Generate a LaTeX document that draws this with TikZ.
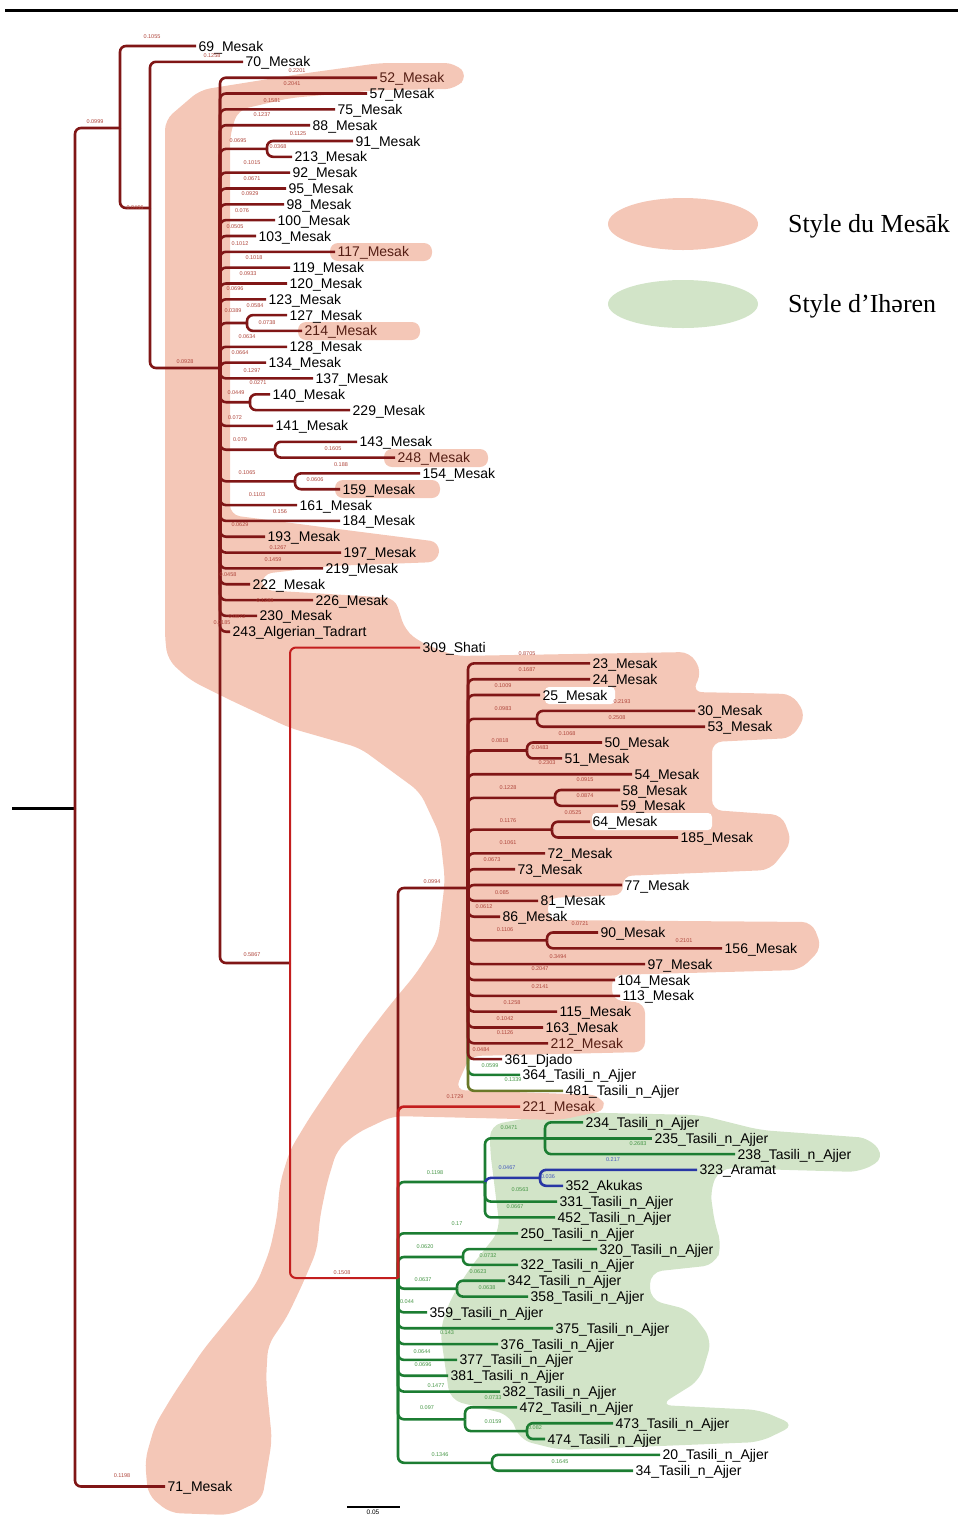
\documentclass[tikz,border=0pt]{standalone}
\usepackage{fontspec}
\setmainfont{Liberation Sans}
\newfontfamily\legfont{Liberation Serif}
\definecolor{brd}{RGB}{128,22,22}
\definecolor{brr}{RGB}{195,30,30}
\definecolor{brg}{RGB}{28,125,50}
\definecolor{brb}{RGB}{40,55,165}
\definecolor{bro}{RGB}{105,120,40}
\definecolor{salm}{RGB}{244,199,183}
\definecolor{lgrn}{RGB}{210,228,200}
\definecolor{blr}{RGB}{175,70,60}
\definecolor{blg}{RGB}{70,150,70}
\definecolor{blb}{RGB}{70,90,190}
\definecolor{labbr}{RGB}{85,30,20}
\tikzset{
  br/.style={line width=2.6pt, rounded corners=6pt},
  leaf/.style={anchor=west, inner sep=2.5pt, text height=10pt, text depth=0pt, font=\fontsize{14}{14}\selectfont},
  bl/.style={font=\fontsize{5.5}{6}\selectfont, inner sep=0pt, text=blr},
  legtxt/.style={anchor=west, inner sep=0pt, font=\legfont\fontsize{26}{26}\selectfont},
}
\newcommand\leafE[7][]{\node[leaf,#1] (#2) at (#4,#5) {#6}; \draw[br,#7] (#3) |- (#2.west);}
\newcommand\innerE[3]{\draw[br,#1] (#2) |- (#3);}
\begin{document}
\begin{tikzpicture}[x=1pt,y=-1pt]
\useasboundingbox (0,0) rectangle (958,1519);
% ---------- background blobs ----------
\fill[lgrn, rounded corners=12pt] (490,1125) -- (560,1112) -- (700,1115) -- (760,1130) -- (870,1138) -- (885,1158) -- (860,1172) -- (720,1168) -- (710,1190) -- (715,1225) -- (722,1245) -- (715,1265) -- (650,1272) -- (650,1300) -- (690,1310) -- (712,1340) -- (700,1380) -- (660,1405) -- (760,1410) -- (795,1425) -- (760,1442) -- (560,1450) -- (520,1440) -- (510,1415) -- (450,1400) -- (440,1330) -- (450,1300) -- (470,1268) -- (500,1230) -- (495,1190) -- (490,1150) -- cycle;
\fill[salm, rounded corners=10pt] (165,640) -- (165,120) -- (200,90) -- (300,74) -- (380,63) -- (455,63) -- (468,76) -- (455,89) -- (380,90) -- (290,98) -- (238,110) -- (230,135) -- (230,515) -- (330,528) -- (440,542) -- (438,562) -- (330,566) -- (262,574) -- (262,590) -- (395,598) -- (405,630) -- (420,642) -- (455,656) -- (690,652) -- (702,672) -- (692,692) -- (792,694) -- (806,715) -- (792,738) -- (712,742) -- (712,810) -- (782,815) -- (792,842) -- (770,870) -- (622,876) -- (624,895) -- (548,898) -- (548,920) -- (812,922) -- (822,948) -- (800,970) -- (612,975) -- (612,1000) -- (645,1003) -- (645,1052) -- (470,1056) -- (455,1090) -- (600,1095) -- (607,1110) -- (560,1120) -- (393,1116) -- (357,1133) -- (337,1150) -- (327,1183) -- (320,1217) -- (317,1250) -- (303,1283) -- (287,1317) -- (268,1345) -- (266,1380) -- (272,1440) -- (262,1500) -- (230,1515) -- (170,1513) -- (148,1495) -- (145,1460) -- (155,1425) -- (173,1395) -- (203,1350) -- (230,1317) -- (257,1283) -- (270,1250) -- (277,1217) -- (280,1183) -- (290,1150) -- (310,1117) -- (337,1077) -- (363,1040) -- (390,1005) -- (415,975) -- (438,940) -- (445,880) -- (440,835) -- (420,792) -- (360,748) -- (290,728) -- (230,700) -- (190,680) -- (168,660) -- cycle;
\fill[salm, rounded corners=8pt] (330,243) rectangle (432,261);
\fill[salm, rounded corners=8pt] (298,322) rectangle (420,340);
\fill[salm, rounded corners=8pt] (384,449) rectangle (488,467);
\fill[salm, rounded corners=8pt] (335,480) rectangle (440,498);
\fill[white, rounded corners=4pt] (545,687) rectangle (615,704);
\fill[white, rounded corners=4pt] (592,813) rectangle (712,830);
% ---------- legend ----------
\fill[salm] (683,224) ellipse [x radius=75pt, y radius=26pt];
\fill[lgrn] (683,304) ellipse [x radius=75pt, y radius=24pt];
\node[legtxt] (lg1) at (788,226) {Style du Mesāk};
\node[legtxt] (lg2) at (788,306) {Style d’Ihəren};
% ---------- frame line and scale ----------
\coordinate (tl1) at (5,10); \coordinate (tl2) at (958,10);
\draw[line width=3pt] (tl1) -- (tl2);
\coordinate (sb1) at (347,1507); \coordinate (sb2) at (400,1507);
\draw[line width=2pt] (sb1) -- (sb2);
\node[anchor=north, inner sep=0pt, font=\fontsize{6.5}{7}\selectfont] (sbl) at (373,1510) {0.05};
% ---------- internal nodes ----------
\coordinate (root0) at (12,808);
\coordinate (R) at (75,808);
\coordinate (A) at (120,128);
\coordinate (B) at (150,208);
\coordinate (C) at (220,368);
\coordinate (D) at (290,963);
\coordinate (E) at (398,1278);
\coordinate (F) at (468,888);
\coordinate (c1) at (267,148.9);
\coordinate (c2) at (247,323.0);
\coordinate (c3) at (250,402.2);
\coordinate (c4) at (275,449.7);
\coordinate (c5) at (295,481.3);
\coordinate (S1) at (537,718.8);
\coordinate (S2) at (527,750.5);
\coordinate (S3) at (555,797.9);
\coordinate (S4) at (552,829.6);
\coordinate (S5) at (547,940.4);
\coordinate (G) at (485,1182);
\coordinate (H) at (545,1138.3);
\coordinate (I) at (540,1177.9);
\coordinate (J) at (463,1257.0);
\coordinate (K) at (457,1288.7);
\coordinate (L) at (465,1419.3);
\coordinate (M) at (527,1431.1);
\coordinate (N) at (492,1462.8);
% ---------- root ----------
\draw[line width=3pt] (root0) -- (R);
\innerE{brd}{R}{A}
\leafE{n71}{R}{165}{1486.5}{71\_Mesak}{brd}
\leafE{n69}{A}{196}{46.0}{69\_Mesak}{brd}
\innerE{brd}{A}{B}
\leafE{n70}{B}{243}{61.8}{70\_Mesak}{brd}
\innerE{brd}{B}{C}
% ---------- C clade ----------
\leafE[text=labbr]{n52}{C}{377}{77.7}{52\_Mesak}{brd}
\leafE{n57}{C}{367}{93.5}{57\_Mesak}{brd}
\leafE{n75}{C}{335}{109.3}{75\_Mesak}{brd}
\leafE{n88}{C}{310}{125.2}{88\_Mesak}{brd}
\innerE{brd}{C}{c1}
\leafE{n91}{c1}{353}{141.0}{91\_Mesak}{brd}
\leafE{n213}{c1}{292}{156.8}{213\_Mesak}{brd}
\leafE{n92}{C}{290}{172.6}{92\_Mesak}{brd}
\leafE{n95}{C}{286}{188.5}{95\_Mesak}{brd}
\leafE{n98}{C}{284}{204.3}{98\_Mesak}{brd}
\leafE{n100}{C}{275}{220.1}{100\_Mesak}{brd}
\leafE{n103}{C}{256}{236.0}{103\_Mesak}{brd}
\leafE[text=labbr]{n117}{C}{335}{251.8}{117\_Mesak}{brd}
\leafE{n119}{C}{290}{267.6}{119\_Mesak}{brd}
\leafE{n120}{C}{287}{283.5}{120\_Mesak}{brd}
\leafE{n123}{C}{266}{299.3}{123\_Mesak}{brd}
\innerE{brd}{C}{c2}
\leafE{n127}{c2}{287}{315.1}{127\_Mesak}{brd}
\leafE[text=labbr]{n214}{c2}{302}{330.9}{214\_Mesak}{brd}
\leafE{n128}{C}{287}{346.8}{128\_Mesak}{brd}
\leafE{n134}{C}{266}{362.6}{134\_Mesak}{brd}
\leafE{n137}{C}{313}{378.4}{137\_Mesak}{brd}
\innerE{brd}{C}{c3}
\leafE{n140}{c3}{270}{394.3}{140\_Mesak}{brd}
\leafE{n229}{c3}{350}{410.1}{229\_Mesak}{brd}
\leafE{n141}{C}{273}{425.9}{141\_Mesak}{brd}
\innerE{brd}{C}{c4}
\leafE{n143}{c4}{357}{441.8}{143\_Mesak}{brd}
\leafE[text=labbr]{n248}{c4}{395}{457.6}{248\_Mesak}{brd}
\innerE{brd}{C}{c5}
\leafE{n154}{c5}{420}{473.4}{154\_Mesak}{brd}
\leafE{n159}{c5}{340}{489.2}{159\_Mesak}{brd}
\leafE{n161}{C}{297}{505.1}{161\_Mesak}{brd}
\leafE{n184}{C}{340}{520.9}{184\_Mesak}{brd}
\leafE{n193}{C}{265}{536.7}{193\_Mesak}{brd}
\leafE{n197}{C}{341}{552.6}{197\_Mesak}{brd}
\leafE{n219}{C}{323}{568.4}{219\_Mesak}{brd}
\leafE{n222}{C}{250}{584.2}{222\_Mesak}{brd}
\leafE{n226}{C}{313}{600.1}{226\_Mesak}{brd}
\leafE{n230}{C}{257}{615.9}{230\_Mesak}{brd}
\leafE{n243}{C}{230}{631.7}{243\_Algerian\_Tadrart}{brd}
\innerE{brd}{C}{D}
% ---------- E clade: green first ----------
\innerE{brg}{E}{G}
\leafE{n250}{E}{518}{1233.3}{250\_Tasili\_n\_Ajjer}{brg}
\innerE{brg}{E}{J}
\innerE{brg}{E}{K}
\leafE{n359}{E}{427}{1312.4}{359\_Tasili\_n\_Ajjer}{brg}
\leafE{n375}{E}{553}{1328.2}{375\_Tasili\_n\_Ajjer}{brg}
\leafE{n376}{E}{498}{1344.1}{376\_Tasili\_n\_Ajjer}{brg}
\leafE{n377}{E}{457}{1359.9}{377\_Tasili\_n\_Ajjer}{brg}
\leafE{n381}{E}{448}{1375.7}{381\_Tasili\_n\_Ajjer}{brg}
\leafE{n382}{E}{500}{1391.6}{382\_Tasili\_n\_Ajjer}{brg}
\innerE{brg}{E}{L}
\innerE{brg}{E}{N}
\innerE{brg}{G}{H}
\leafE{n234}{H}{583}{1122.4}{234\_Tasili\_n\_Ajjer}{brg}
\node[leaf] (n235) at (652,1138.3) {235\_Tasili\_n\_Ajjer};
\draw[br,brg] (H) -- (n235.west);
\leafE{n238}{H}{735}{1154.1}{238\_Tasili\_n\_Ajjer}{brg}
\innerE{brb}{G}{I}
\leafE{n323}{I}{697}{1169.9}{323\_Aramat}{brb}
\leafE{n352}{I}{563}{1185.8}{352\_Akukas}{brb}
\leafE{n331}{G}{557}{1201.6}{331\_Tasili\_n\_Ajjer}{brg}
\leafE{n452}{G}{555}{1217.4}{452\_Tasili\_n\_Ajjer}{brg}
\leafE{n320}{J}{597}{1249.1}{320\_Tasili\_n\_Ajjer}{brg}
\leafE{n322}{J}{518}{1264.9}{322\_Tasili\_n\_Ajjer}{brg}
\leafE{n342}{K}{505}{1280.7}{342\_Tasili\_n\_Ajjer}{brg}
\leafE{n358}{K}{528}{1296.6}{358\_Tasili\_n\_Ajjer}{brg}
\leafE{n472}{L}{517}{1407.4}{472\_Tasili\_n\_Ajjer}{brg}
\innerE{brg}{L}{M}
\leafE{n473}{M}{613}{1423.2}{473\_Tasili\_n\_Ajjer}{brg}
\leafE{n474}{M}{545}{1439.0}{474\_Tasili\_n\_Ajjer}{brg}
\leafE{n20}{N}{660}{1454.9}{20\_Tasili\_n\_Ajjer}{brg}
\leafE{n34}{N}{633}{1470.7}{34\_Tasili\_n\_Ajjer}{brg}
% ---------- E clade: red ----------
\innerE{brd}{E}{F}
\leafE[text=labbr]{n221}{E}{520}{1106.6}{221\_Mesak}{brr}
\leafE{n309}{D}{420}{647.5}{309\_Shati}{brr,line width=2pt}
\innerE{brr,line width=2pt}{D}{E}
% ---------- F clade ----------
\leafE{n364}{F}{520}{1074.9}{364\_Tasili\_n\_Ajjer}{brg}
\leafE{n481}{F}{563}{1090.8}{481\_Tasili\_n\_Ajjer}{bro}
\leafE{n23}{F}{590}{663.4}{23\_Mesak}{brd}
\leafE{n24}{F}{590}{679.2}{24\_Mesak}{brd}
\leafE{n25}{F}{540}{695.0}{25\_Mesak}{brd}
\innerE{brd}{F}{S1}
\leafE{n30}{S1}{695}{710.9}{30\_Mesak}{brd}
\leafE{n53}{S1}{705}{726.7}{53\_Mesak}{brd}
\innerE{brd}{F}{S2}
\leafE{n50}{S2}{602}{742.5}{50\_Mesak}{brd}
\leafE{n51}{S2}{562}{758.4}{51\_Mesak}{brd}
\leafE{n54}{F}{632}{774.2}{54\_Mesak}{brd}
\innerE{brd}{F}{S3}
\leafE{n58}{S3}{620}{790.0}{58\_Mesak}{brd}
\leafE{n59}{S3}{618}{805.8}{59\_Mesak}{brd}
\innerE{brd}{F}{S4}
\leafE{n64}{S4}{590}{821.7}{64\_Mesak}{brd}
\leafE{n185}{S4}{678}{837.5}{185\_Mesak}{brd}
\leafE{n72}{F}{545}{853.3}{72\_Mesak}{brd}
\leafE{n73}{F}{515}{869.2}{73\_Mesak}{brd}
\leafE{n77}{F}{622}{885.0}{77\_Mesak}{brd}
\leafE{n81}{F}{538}{900.8}{81\_Mesak}{brd}
\leafE{n86}{F}{500}{916.7}{86\_Mesak}{brd}
\innerE{brd}{F}{S5}
\leafE{n90}{S5}{598}{932.5}{90\_Mesak}{brd}
\leafE{n156}{S5}{722}{948.3}{156\_Mesak}{brd}
\leafE{n97}{F}{645}{964.1}{97\_Mesak}{brd}
\leafE{n104}{F}{615}{980.0}{104\_Mesak}{brd}
\leafE{n113}{F}{620}{995.8}{113\_Mesak}{brd}
\leafE{n115}{F}{557}{1011.6}{115\_Mesak}{brd}
\leafE{n163}{F}{543}{1027.5}{163\_Mesak}{brd}
\leafE[text=labbr]{n212}{F}{548}{1043.3}{212\_Mesak}{brd}
\leafE{n361}{F}{502}{1059.1}{361\_Djado}{brd}
% ---------- branch lengths ----------
\foreach \x/\y/\t [count=\i] in {152/37/0.1055, 212/56/0.1258, 95/122/0.0999, 135/208/0.0466, 185/362/0.0928, 297/71/0.2201, 292/84/0.2041, 272/101/0.1581, 262/115/0.1237, 298/134/0.1125, 238/141/0.0695, 278/147/0.0368, 252/163/0.1015, 252/179/0.0671, 250/194/0.0929, 242/211/0.076, 235/227/0.0505, 240/244/0.1012, 254/258/0.1018, 248/274/0.0933, 235/289/0.0696, 255/306/0.0584, 233/311/0.0389, 267/323/0.0738, 247/337/0.0634, 240/353/0.0664, 252/371/0.1297, 258/383/0.0271, 236/393/0.0449, 235/418/0.072, 240/440/0.079, 333/449/0.1605, 341/465/0.188, 247/473/0.1065, 315/480/0.0606, 257/495/0.1103, 280/512/0.156, 240/525/0.0629, 278/548/0.1267, 273/560/0.1459, 228/575/0.0458, 265/601/0.1288, 237/617/0.0872, 222/623/0.0185, 252/955/0.5867, 432/882/0.0994, 342/1273/0.1508, 455/1097/0.1729, 527/654/0.8705, 527/670/0.1687, 503/686/0.1009, 622/702/0.2193, 503/709/0.0983, 617/718/0.2508, 567/734/0.1068, 500/741/0.0818, 540/748/0.0483, 547/763/0.2303, 585/780/0.0915, 508/788/0.1228, 585/796/0.0874, 573/813/0.0525, 508/821/0.1176, 508/843/0.1061, 492/860/0.0673, 502/893/0.085, 484/907/0.0612, 580/924/0.0721, 505/930/0.1106, 684/941/0.2101, 558/957/0.3494, 540/969/0.2047, 540/987/0.2141, 512/1003/0.1258, 505/1019/0.1042, 505/1033/0.1126, 481/1050/0.0484, 122/1476/0.1198}
  \node[bl] (blr\i) at (\x,\y) {\t};
\foreach \x/\y/\t [count=\i] in {490/1066/0.0599, 513/1080/0.1339, 509/1128/0.0471, 638/1144/0.2683, 435/1173/0.1198, 520/1190/0.0563, 515/1207/0.0667, 457/1224/0.17, 425/1247/0.0620, 488/1256/0.0732, 478/1272/0.0623, 423/1280/0.0637, 487/1288/0.0638, 407/1302/0.044, 447/1333/0.143, 422/1352/0.0644, 423/1365/0.0696, 436/1386/0.1477, 493/1398/0.0733, 427/1408/0.097, 493/1422/0.0159, 535/1428/0.082, 440/1455/0.1346, 560/1462/0.1645}
  \node[bl, text=blg] (blg\i) at (\x,\y) {\t};
\foreach \x/\y/\t [count=\i] in {613/1160/0.217, 507/1168/0.0467, 548/1177/0.036}
  \node[bl, text=blb] (blb\i) at (\x,\y) {\t};
\end{tikzpicture}
\end{document}
